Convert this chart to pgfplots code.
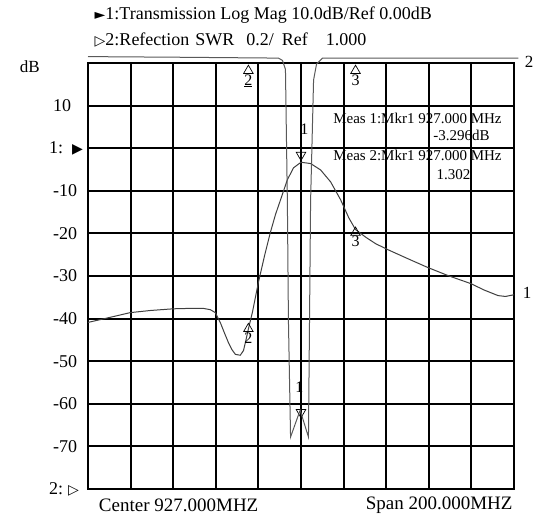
\documentclass[border=0pt]{standalone}
\usepackage{fontspec}
\setmainfont{Liberation Serif}
\newfontfamily\sym{DejaVu Sans}
\usepackage{pgfplots}
\pgfplotsset{compat=1.18}

\newcommand{\fs}[1]{\fontsize{#1}{#1}\selectfont}

\begin{document}
\begin{tikzpicture}
\begin{axis}[
  scale only axis,
  width=426pt, height=426pt,
  xmin=827, xmax=1027, ymin=-80, ymax=20,
  xtick={827,847,...,1027}, xticklabels={},
  ytick={-70,-60,-50,-40,-30,-20,-10,0,10},
  yticklabels={-70,-60,-50,-40,-30,-20,-10,{},10},
  extra y ticks={-80,0},
  extra y tick labels={{2:\hspace{5pt}{\sym\fs{14}▷}},{1:\hspace{9pt}{\sym\fs{14}▶}}},
  major tick length=0pt,
  grid=major,
  major grid style={black, line width=1.9pt},
  axis line style={black, line width=1.9pt},
  tick label style={font=\fs{18}},
  yticklabel style={anchor=west, inner sep=0pt, xshift=-35pt},
  extra y tick style={yticklabel style={xshift=-4pt}},
  clip=false,
]
% trace 1: transmission, dB
\addplot[black!75, line width=1pt] coordinates {
  (827,-40.9) (837.4,-39.7) (846.8,-38.6) (856.2,-38.1) (867,-37.7)
  (875,-37.6) (881.1,-37.6) (884.4,-37.9) (886.8,-38.6) (889.1,-40.9)
  (891,-43.3) (892.9,-45.6) (894.6,-47.3) (896.2,-48.4) (898.5,-48.6)
  (900,-47.5) (900.9,-45.6) (902.5,-42.0) (904.2,-38.5) (907,-31.5)
  (910,-25.0) (912.6,-19.8) (915,-15.6) (917.4,-12.1) (920.6,-7.4)
  (923.5,-4.6) (927,-3.3) (931.5,-3.6) (936.2,-5.1) (940.9,-7.9)
  (945.6,-12.1) (949.4,-16.3) (952.6,-19.1) (957.4,-20.9) (962,-22.4)
  (967.7,-23.8) (977,-25.9) (986.5,-28.0) (996,-29.9) (1006.8,-31.8)
  (1013,-33.3) (1019.5,-34.6) (1023,-34.8) (1027,-34.4)
};
% markers pointing up, number below
\addplot[only marks, mark=triangle, mark size=5.5pt,
  mark options={black, line width=0.7pt},
  point meta=explicit symbolic, nodes near coords,
  every node near coord/.append style={anchor=north, yshift=-3.5pt, inner sep=0pt, font=\fs{16}}]
  coordinates {
  (902.3,-42.4) [2]
  (952.6,-19.8) [3]
  (902.3,18.2) [\underline{2}]
  (952.6,18.2) [3]
};
% markers pointing down
\addplot[only marks, mark=triangle, mark size=5.5pt,
  mark options={black, line width=0.7pt, rotate=180}]
  coordinates {(927,-1.6) (927,-62.0)};
\node[anchor=south, inner sep=0pt, font=\fs{16}] at (axis cs:928.6,3.2) {1};
\node[anchor=south, inner sep=0pt, font=\fs{16}] at (axis cs:926.2,-57.4) {1};
\node[anchor=west, font=\fs{18}] at (axis cs:828.5,31.3)
  {{\sym\fs{14}►}1:Transmission Log Mag 10.0dB/Ref 0.00dB};
\node[anchor=west, font=\fs{18}] at (axis cs:828.5,25.4)
  {{\sym\fs{14}▷}2:Refection\hspace{6pt}SWR\hspace{12pt}0.2/\hspace{8pt}Ref\hspace{18pt}1.000};
\node[font=\fs{17}] at (axis cs:799.7,19.1) {dB};
\node[anchor=west, font=\fs{19}] at (axis cs:830.5,-83.8) {Center 927.000MHZ};
\node[anchor=east, font=\fs{19}] at (axis cs:1028,-83.8) {Span 200.000MHZ};
\node[anchor=west, font=\fs{15}] at (axis cs:940.5,7.1) {Meas 1:Mkr1 927.000 MHz};
\node[anchor=west, font=\fs{15}] at (axis cs:987.5,3.1) {-3.296dB};
\node[anchor=west, font=\fs{15}] at (axis cs:940.5,-1.6) {Meas 2:Mkr1 927.000 MHz};
\node[anchor=west, font=\fs{15}] at (axis cs:989,-6.2) {1.302};
\node[anchor=west, font=\fs{17}] at (axis cs:1029.5,-34) {1};
\node[anchor=west, font=\fs{17}] at (axis cs:1030.5,20.2) {2};
\end{axis}
\begin{axis}[
  scale only axis,
  width=426pt, height=426pt,
  xmin=827, xmax=1027, ymin=1, ymax=3,
  hide axis, clip=false,
]
% trace 2: reflection, SWR
\addplot[black!65, line width=1pt] coordinates {
  (827,3.03) (870,3.027) (916.4,3.023) (918.3,3.012) (919.7,2.97)
  (920.6,2.35) (921.1,1.79) (922.1,1.244) (926.6,1.37) (930.5,1.244)
  (931.0,1.79) (931.5,2.35) (932.9,2.92) (934.3,2.995) (937.1,3.023)
  (1029,3.023)
};
\end{axis}
\pgfresetboundingbox
\useasboundingbox (-88pt,-31pt) rectangle (448pt,489pt);
\end{tikzpicture}
\end{document}
